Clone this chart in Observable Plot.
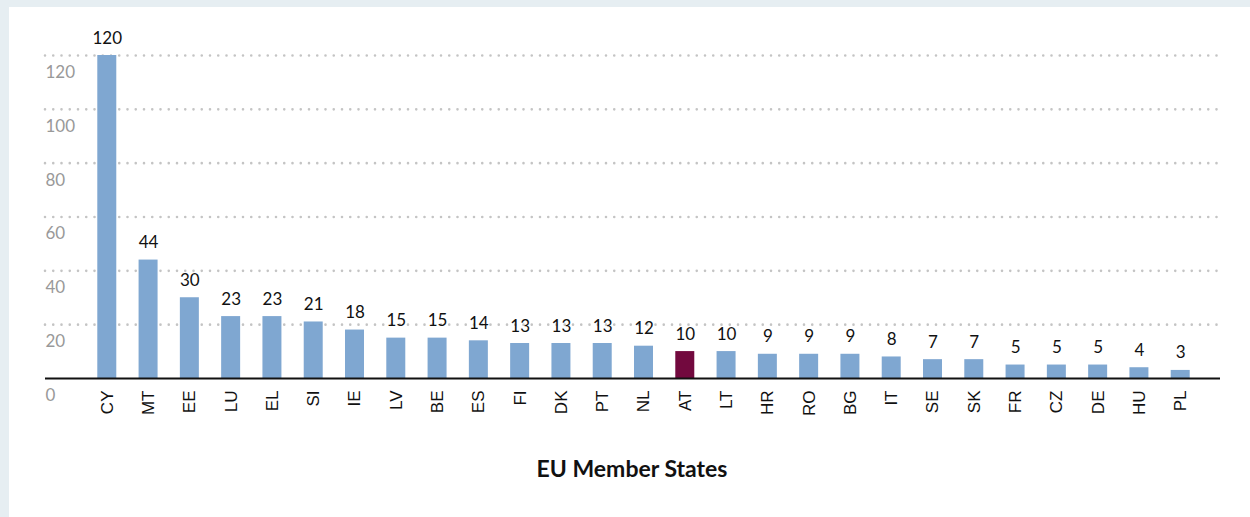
<!DOCTYPE html>
<html>
<head>
<meta charset="utf-8">
<script src="https://cdn.jsdelivr.net/npm/d3@7"></script>
<script src="https://cdn.jsdelivr.net/npm/@observablehq/plot@0.6"></script>
<style>
  html, body { margin: 0; padding: 0; background: #e6eef2; width: 1250px; height: 517px; overflow: hidden; }
  #card { position: absolute; left: 9px; top: 7px; width: 1241px; height: 510px; background: #ffffff; }
  #xtitle { position: absolute; left: 0; top: 447px; width: 1246px; text-align: center;
            font-family: Lato, "Open Sans", sans-serif; font-weight: 700; font-size: 23px; color: #111; }
</style>
</head>
<body>
<div id="card"><div id="chart"></div><div id="xtitle">EU Member States</div></div>
<script>
const countries = ["CY","MT","EE","LU","EL","SI","IE","LV","BE","ES","FI","DK","PT","NL","AT","LT","HR","RO","BG","IT","SE","SK","FR","CZ","DE","HU","PL"];
const values = [120,44,30,23,23,21,18,15,15,14,13,13,13,12,10,10,9,9,9,8,7,7,5,5,5,4,3];
const highlighted = ["AT"];
const yTicks = [0,20,40,60,80,100,120];
const gridTicks = [20,40,60,80,100,120];

const data = countries.map((c, i) => ({country: c, value: values[i]}));
const blue = "#7fa7d1";
const maroon = "#72093e";

const chart = Plot.plot({
  width: 1241,
  height: 430,
  marginLeft: 36,
  marginRight: 30,
  marginTop: 48,
  marginBottom: 59,
  style: {fontFamily: "Lato, 'Open Sans', sans-serif", background: "transparent"},
  x: {domain: countries, padding: 0.54, insetLeft: 30, insetRight: 8, round: false, label: null},
  y: {domain: [0, 120], axis: null},
  marks: [
    Plot.ruleY(gridTicks, {stroke: "#c4c4c4", strokeWidth: 2.6, strokeDasharray: "0 8.25", strokeLinecap: "round"}),
    Plot.barY(data, {x: "country", y: "value", fill: d => highlighted.includes(d.country) ? maroon : blue}),
    Plot.ruleY([0], {stroke: "#111", strokeWidth: 2}),
    Plot.text(data, {x: "country", y: "value", text: d => String(d.value), dy: -12, lineAnchor: "bottom", fontSize: 17, fill: "#111"}),
    Plot.text(yTicks, {y: d => d, text: d => String(d), frameAnchor: "left", textAnchor: "start", dy: 17, fontSize: 17, fill: "#999"}),
    Plot.axisX({tickRotate: -90, tickSize: 0, tickPadding: 12, fontSize: 17, label: null, color: "#111",
                fontFamily: "'Liberation Sans', Arial, sans-serif"})
  ]
});
document.getElementById("chart").appendChild(chart);
</script>
</body>
</html>
